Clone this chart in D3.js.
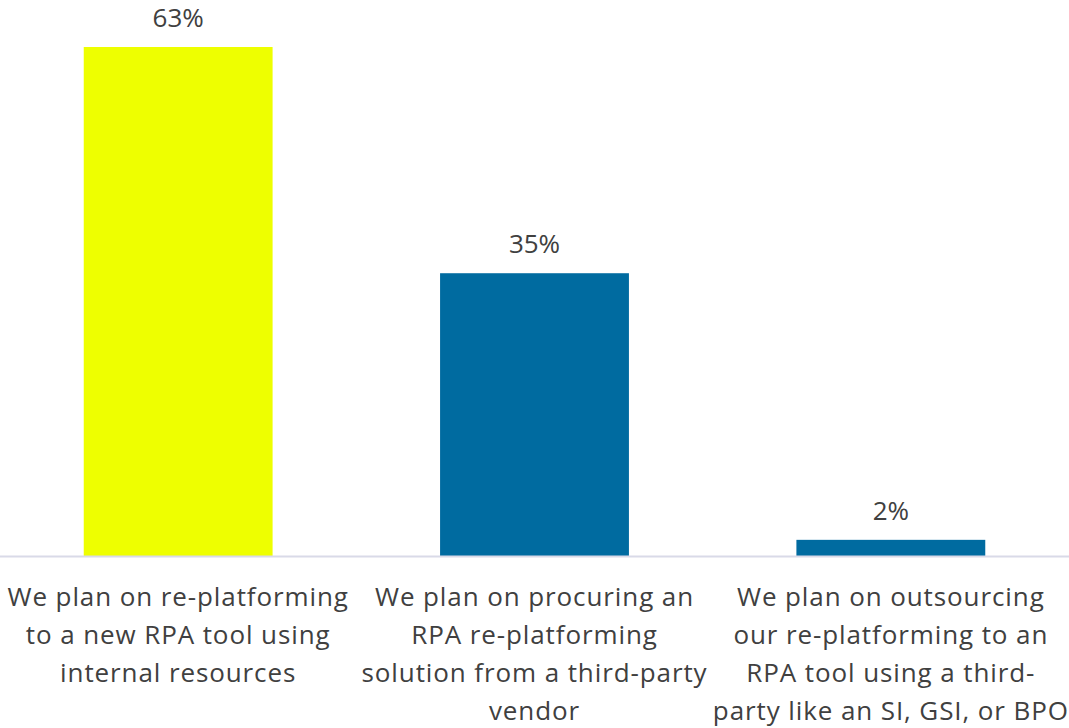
<!DOCTYPE html>
<html>
<head>
<meta charset="utf-8">
<script src="https://cdn.jsdelivr.net/npm/d3@7"></script>
<style>
  html, body { margin: 0; padding: 0; background: #ffffff; }
  svg { display: block; }
  text { font-family: "Open Sans", Lato, sans-serif; fill: #404040; }
</style>
</head>
<body>
<svg id="chart" width="1069" height="728"></svg>
<script>
// Survey answers, one line per wrapped row of the label
const categories = [
  "We plan on re-platforming\nto a new RPA tool using\ninternal resources",
  "We plan on procuring an\nRPA re-platforming\nsolution from a third-party\nvendor",
  "We plan on outsourcing\nour re-platforming to an\nRPA tool using a third-\nparty like an SI, GSI, or BPO"
];
const shares = [63, 35, 2];
const barColors = ["#EEFF00", "#006BA0", "#006BA0"];

const svg = d3.select("#chart");
const width = 1069;
const baseline = 556;

const x = d3.scaleBand()
  .domain(categories)
  .range([0, width])
  .paddingInner(0.47)
  .paddingOuter(0.235);

const y = d3.scaleLinear()
  .domain([0, 63])
  .range([baseline, 47]);

// Bars
svg.append("g")
  .selectAll("rect")
  .data(categories)
  .join("rect")
  .attr("x", d => x(d))
  .attr("y", (d, i) => y(shares[i]))
  .attr("width", x.bandwidth())
  .attr("height", (d, i) => baseline - y(shares[i]))
  .attr("fill", (d, i) => barColors[i]);

// Category axis
const axis = svg.append("g")
  .attr("transform", `translate(0,${baseline})`)
  .call(d3.axisBottom(x).tickSize(0).tickFormat(""));
axis.select(".domain")
  .attr("d", `M0,0.5H${width}`)
  .attr("stroke", "#D9DAE8")
  .attr("stroke-width", 2);

// Wrapped category labels
axis.selectAll(".tick").each(function(d) {
  const t = d3.select(this).select("text")
    .attr("y", 0)
    .attr("dy", null)
    .attr("text-anchor", "middle")
    .style("font-size", "26px")
    .style("letter-spacing", "0.9px")
    .style("fill", "#404040");
  d.split("\n").forEach((line, i) => {
    t.append("tspan")
      .attr("x", 0)
      .attr("y", 50 + i * 38)
      .text(line);
  });
});

// Value labels
svg.append("g")
  .selectAll("text")
  .data(categories)
  .join("text")
  .attr("x", d => x(d) + x.bandwidth() / 2)
  .attr("y", (d, i) => y(shares[i]) - 20)
  .attr("text-anchor", "middle")
  .style("font-size", "26px")
  .text((d, i) => shares[i] + "%");
</script>
</body>
</html>
